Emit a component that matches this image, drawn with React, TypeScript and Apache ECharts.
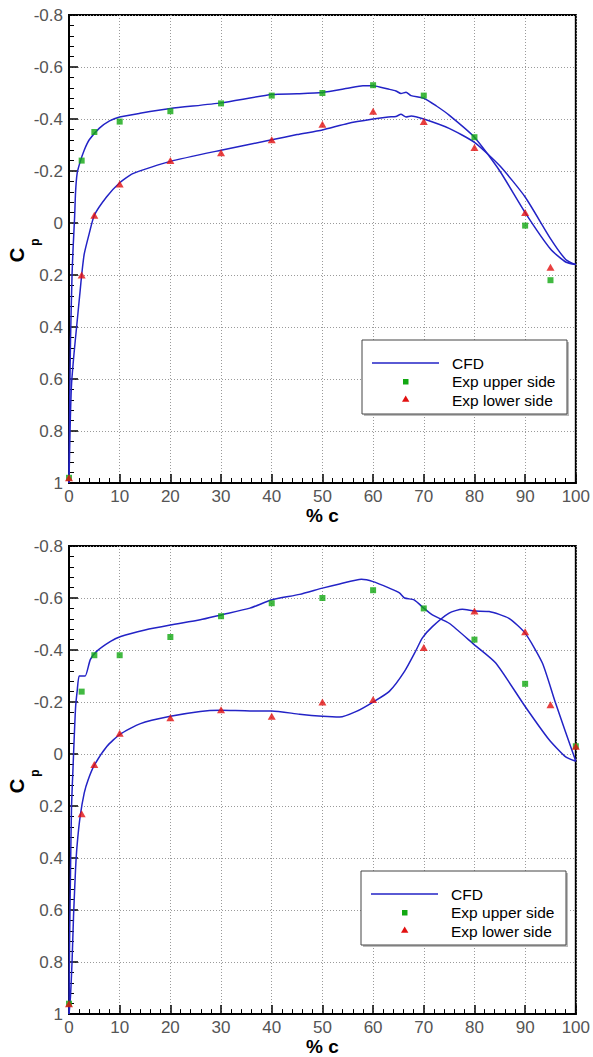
import React, { useEffect, useRef } from "react";
import * as echarts from "echarts";

// ---------- Data (x in % chord, y = Cp) ----------
// Top chart
const cfdUpperTop: [number, number][] = [
  [0, 1.0], [0.1, 0.75], [0.3, 0.45], [0.6, 0.2], [0.8, 0.1], [1.1, -0.02], [1.3, -0.12],
  [1.6, -0.19], [2.2, -0.235], [3, -0.28], [4, -0.32], [6, -0.365], [8, -0.393], [10, -0.408],
  [14, -0.422], [20, -0.44], [30, -0.462], [40, -0.494], [45, -0.497], [50, -0.502], [55, -0.518],
  [58, -0.528], [60, -0.528], [63, -0.515], [64.5, -0.508], [65.5, -0.498], [66.5, -0.503],
  [67.5, -0.49], [70, -0.48], [72.5, -0.45], [75, -0.415], [80, -0.33], [85, -0.2], [90, -0.04],
  [95, 0.1], [98, 0.15], [100, 0.16],
];
const cfdLowerTop: [number, number][] = [
  [0, 1.0], [0.2, 0.8], [0.5, 0.62], [1.0, 0.5], [1.5, 0.4], [2.2, 0.26], [2.5, 0.2], [3, 0.12],
  [4, 0.04], [5, -0.03], [7.4, -0.1], [10, -0.155], [12.6, -0.19], [20, -0.237], [30, -0.28],
  [40, -0.32], [45, -0.34], [50, -0.358], [55, -0.383], [60, -0.4], [63, -0.408], [64.5, -0.41],
  [65.5, -0.418], [66.5, -0.408], [67.5, -0.412], [70, -0.4], [75, -0.364], [80, -0.31],
  [85, -0.22], [90, -0.1], [95, 0.06], [98, 0.14], [100, 0.16],
];
const expUpperTop: [number, number][] = [
  [0, 0.98], [2.5, -0.24], [5, -0.35], [10, -0.39], [20, -0.43], [30, -0.46], [40, -0.49],
  [50, -0.5], [60, -0.53], [70, -0.49], [80, -0.33], [90, 0.01], [95, 0.22],
];
const expLowerTop: [number, number][] = [
  [0, 0.98], [2.5, 0.2], [5, -0.03], [10, -0.15], [20, -0.24], [30, -0.27], [40, -0.32],
  [50, -0.38], [60, -0.43], [70, -0.39], [80, -0.29], [90, -0.04], [95, 0.17],
];

// Bottom chart
const cfdUpperBottom: [number, number][] = [
  [0, 1.0], [0.1, 0.75], [0.3, 0.45], [0.5, 0.2], [0.8, 0.05], [1.0, -0.05], [1.3, -0.18],
  [1.6, -0.24], [2.0, -0.3], [2.6, -0.3], [3.2, -0.3], [4.2, -0.363], [5.4, -0.394],
  [8.2, -0.433], [10.2, -0.452], [15, -0.477], [20, -0.496], [25.9, -0.516], [30, -0.535],
  [35.7, -0.561], [40, -0.593], [45.5, -0.614], [50, -0.638], [53.4, -0.654], [57.7, -0.672],
  [60, -0.663], [63.2, -0.638], [65.2, -0.62], [66.2, -0.6], [68.1, -0.593], [70, -0.561],
  [71.7, -0.535], [75, -0.503], [80, -0.42], [84.2, -0.35], [90, -0.183], [94.7, -0.056],
  [98, 0.011], [100, 0.028],
];
const cfdLowerBottom: [number, number][] = [
  [0, 1.0], [0.3, 0.93], [0.6, 0.8], [0.9, 0.62], [1.3, 0.44], [1.6, 0.35], [2.2, 0.24],
  [3.0, 0.15], [3.8, 0.098], [5, 0.043], [7.5, -0.03], [10, -0.075], [14.1, -0.117],
  [20, -0.145], [25.9, -0.164], [30, -0.168], [35.7, -0.166], [40, -0.166], [45.5, -0.153],
  [50, -0.145], [53.4, -0.142], [56.7, -0.164], [60, -0.2], [63.2, -0.241], [66.2, -0.318],
  [68.5, -0.4], [69.7, -0.446], [71.7, -0.49], [75, -0.542], [77.6, -0.557], [80, -0.55],
  [82.9, -0.548], [86.8, -0.522], [90, -0.465], [93.4, -0.35], [96, -0.196], [100, 0.028],
];
const expUpperBottom: [number, number][] = [
  [0, 0.96], [2.5, -0.24], [5, -0.38], [10, -0.38], [20, -0.45], [30, -0.53], [40, -0.58],
  [50, -0.6], [60, -0.63], [70, -0.56], [80, -0.44], [90, -0.27], [100, -0.03],
];
const expLowerBottom: [number, number][] = [
  [0, 0.96], [2.5, 0.23], [5, 0.04], [10, -0.08], [20, -0.14], [30, -0.17], [40, -0.145],
  [50, -0.2], [60, -0.21], [70, -0.41], [80, -0.55], [90, -0.47], [95, -0.19], [100, -0.03],
];

const legendLabels = ["CFD", "Exp upper side", "Exp lower side"];
const xLabel = "% c";

// ---------- Styles ----------
const FONT = "'Liberation Sans', Arial, sans-serif";
const BLUE = "#2323c6";
const GREEN = "#12a812";
const RED = "#e21010";

const grids = [
  { left: 69, top: 15, width: 509, height: 468 },
  { left: 69, top: 546, width: 508, height: 469 },
];

function makeXAxis(i: number) {
  return {
    gridIndex: i,
    type: "value",
    min: 0,
    max: 100,
    interval: 10,
    axisLine: { show: true, onZero: false, lineStyle: { color: "#000", width: 2 } },
    axisTick: { show: true, inside: true, length: 9, lineStyle: { color: "#000", width: 1.5 } },
    minorTick: { show: true, splitNumber: 5, length: 5, lineStyle: { color: "#000", width: 1 } },
    axisLabel: { color: "#555", fontSize: 17, fontFamily: FONT, margin: 5 },
    splitLine: { show: true, lineStyle: { color: "#9a9a9a", type: [1, 2], width: 1 } },
    minorSplitLine: { show: false },
    name: xLabel,
    nameLocation: "middle",
    nameGap: 22,
    nameTextStyle: { fontWeight: "bold", fontSize: 19, color: "#000", fontFamily: FONT },
  };
}

function makeYAxis(i: number) {
  return {
    gridIndex: i,
    type: "value",
    inverse: true,
    min: -0.8,
    max: 1,
    interval: 0.2,
    axisLine: { show: true, onZero: false, lineStyle: { color: "#000", width: 2 } },
    axisTick: { show: true, inside: true, length: 9, lineStyle: { color: "#000", width: 1.5 } },
    minorTick: { show: true, splitNumber: 5, length: 5, lineStyle: { color: "#000", width: 1 } },
    axisLabel: {
      color: "#555",
      fontSize: 17,
      fontFamily: FONT,
      margin: 6,
      formatter: (v: number) => String(Math.round(v * 10) / 10),
    },
    splitLine: { show: true, lineStyle: { color: "#9a9a9a", type: [1, 2], width: 1 } },
  };
}

function lineSeries(i: number, name: string, data: [number, number][]) {
  return {
    name,
    type: "line",
    xAxisIndex: i,
    yAxisIndex: i,
    data,
    symbol: "none",
    showSymbol: false,
    smooth: 0.2,
    lineStyle: { color: BLUE, width: 1.5 },
    z: 3,
  };
}

function scatterSeries(i: number, name: string, data: [number, number][], upper: boolean) {
  return {
    name,
    type: "scatter",
    xAxisIndex: i,
    yAxisIndex: i,
    data,
    symbol: upper ? "rect" : "triangle",
    symbolSize: upper ? 6 : [8, 7],
    itemStyle: { color: upper ? GREEN : RED },
    clip: false,
    z: 4,
  };
}

function legendGraphic(dx: number, dy: number) {
  const x0 = 362 + dx;
  const y0 = 340 + dy;
  const tx = 452 + dx;
  return [
    {
      type: "rect",
      z: 100,
      shape: { x: x0 + 2, y: y0 + 2, width: 205, height: 74 },
      style: { fill: "#bbb" },
    },
    {
      type: "rect",
      z: 101,
      shape: { x: x0, y: y0, width: 205, height: 74 },
      style: { fill: "#fff", stroke: "#444", lineWidth: 1 },
    },
    {
      type: "line",
      z: 102,
      shape: { x1: 372 + dx, y1: 363 + dy, x2: 439 + dx, y2: 363 + dy },
      style: { stroke: BLUE, lineWidth: 1.5 },
    },
    {
      type: "rect",
      z: 102,
      shape: { x: 403 + dx, y: 379 + dy, width: 5.5, height: 5.5 },
      style: { fill: GREEN },
    },
    {
      type: "polygon",
      z: 102,
      shape: { points: [[405.7 + dx, 395.5 + dy], [402 + dx, 401.8 + dy], [409.4 + dx, 401.8 + dy]] },
      style: { fill: RED },
    },
    ...legendLabels.map((t, k) => ({
      type: "text",
      z: 102,
      x: tx,
      y: 363 + dy + k * 18.5,
      style: {
        text: t,
        fill: "#000",
        font: `15.5px ${FONT}`,
        textAlign: "left",
        textVerticalAlign: "middle",
      },
    })),
  ];
}

function cpLabel(dy: number) {
  return [
    {
      type: "text",
      z: 100,
      x: 17,
      y: 255 + dy,
      rotation: Math.PI / 2,
      style: {
        text: "C",
        fill: "#000",
        font: `bold 20px ${FONT}`,
        textAlign: "center",
        textVerticalAlign: "middle",
      },
    },
    {
      type: "text",
      z: 100,
      x: 35,
      y: 242 + dy,
      rotation: Math.PI / 2,
      style: {
        text: "p",
        fill: "#000",
        font: `bold 12px ${FONT}`,
        textAlign: "center",
        textVerticalAlign: "middle",
      },
    },
  ];
}

const option = {
  animation: false,
  backgroundColor: "#fff",
  grid: grids.map((g) => ({ ...g, show: true, borderColor: "#000", borderWidth: 2, backgroundColor: "transparent" })),
  xAxis: [makeXAxis(0), makeXAxis(1)],
  yAxis: [makeYAxis(0), makeYAxis(1)],
  series: [
    lineSeries(0, "CFD upper", cfdUpperTop),
    lineSeries(0, "CFD lower", cfdLowerTop),
    scatterSeries(0, "Exp upper side", expUpperTop, true),
    scatterSeries(0, "Exp lower side", expLowerTop, false),
    lineSeries(1, "CFD upper", cfdUpperBottom),
    lineSeries(1, "CFD lower", cfdLowerBottom),
    scatterSeries(1, "Exp upper side", expUpperBottom, true),
    scatterSeries(1, "Exp lower side", expLowerBottom, false),
  ],
  graphic: [...legendGraphic(0, 0), ...legendGraphic(-1, 531), ...cpLabel(0), ...cpLabel(531)],
};

export default function App() {
  const ref = useRef<HTMLDivElement>(null);
  useEffect(() => {
    if (!ref.current) return;
    const chart = echarts.init(ref.current, null, { renderer: "svg" });
    chart.setOption(option as any);
    return () => chart.dispose();
  }, []);
  return (
    <div
      ref={ref}
      style={{ position: "absolute", left: 0, top: 0, width: 593, height: 1057, background: "#fff" }}
    />
  );
}
